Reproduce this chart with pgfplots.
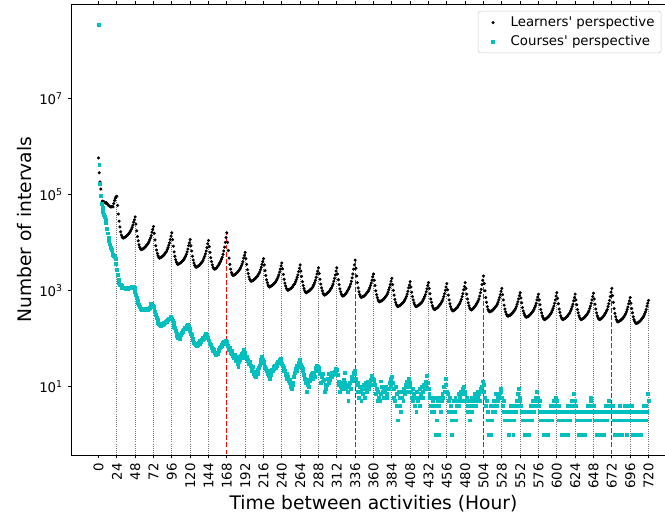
\documentclass[border=0pt]{standalone}
\usepackage{fontspec}
\setmainfont{DejaVu Sans}
\usepackage{pgfplots}
\pgfplotsset{compat=1.18}
\definecolor{mplcyan}{rgb}{0,0.75,0.75}

\begin{document}
\begin{tikzpicture}
\useasboundingbox (0,0) rectangle (498.75pt,387.75pt);
\begin{axis}[
    at={(53.25pt,46.5pt)}, anchor=south west,
    scale only axis, width=453.75pt, height=337.9pt,
    xmin=-36, xmax=756,
    ymode=log, ymin=0.378, ymax=9.3e8,
    xtick={0,24,...,720},
    ytick={10,1000,100000,10000000},
    yticklabels={10\textsuperscript{1},10\textsuperscript{3},10\textsuperscript{5},10\textsuperscript{7}},
    xminorticks=false, yminorticks=false,
    /pgf/number format/assume math mode=true,
    tick align=outside, major tick length=2.6pt,
    tick style={black, line width=0.6pt},
    axis line style={line width=0.6pt},
    tick label style={font=\fontsize{10}{12}\selectfont},
    xticklabel style={rotate=90, anchor=east},
    xlabel={Time between activities (Hour)},
    ylabel={Number of intervals},
    label style={font=\fontsize{14}{16}\selectfont},
    xlabel style={at={(axis description cs:0.5,0)}, anchor=base, yshift=-41.25pt},
    ylabel style={at={(axis description cs:-0.0775,0.5)}, anchor=center},
    legend cell align=left,
    legend image code/.code={\path (0pt,0pt) (19pt,0pt); \draw[#1] plot coordinates {(8pt,0pt)};},
    legend style={at={(0.976,0.9856)}, anchor=north east, draw=black!20,
        rounded corners=2pt, font=\fontsize{10}{12}\selectfont,
        inner ysep=2pt, row sep=1pt},
]

% learners' perspective
\addplot[only marks, mark=*, mark size=0.95pt, black] coordinates {
(0,5.89e5)(1,2.88e5)(2,1.86e5)(3,1.32e5)(4,9.55e4)(5,7.41e4)(6,7.08e4)(7,7.24e4)(8,6.92e4)(9,6.76e4)(10,6.92e4)(11,6.61e4)(12,6.31e4)(13,6.03e4)(14,5.89e4)(15,5.75e4)(16,5.62e4)(17,5.62e4)(18,5.75e4)(19,5.62e4)(20,6.61e4)(21,7.59e4)(22,8.51e4)(23,9.12e4)(24,9.33e4)
(25,6.03e4)(26,3.98e4)(27,2.82e4)(28,2.14e4)(29,1.70e4)(30,1.45e4)(31,1.32e4)(32,1.26e4)(33,1.26e4)(34,1.29e4)(35,1.32e4)(36,1.35e4)(37,1.41e4)(38,1.45e4)(39,1.51e4)(40,1.58e4)(41,1.66e4)(42,1.78e4)(43,1.91e4)(44,2.09e4)(45,2.34e4)(46,2.69e4)(47,3.02e4)(48,3.47e4)
(49,2.45e4)(50,1.78e4)(51,1.35e4)(52,1.10e4)(53,9.12e3)(54,8.13e3)(55,7.41e3)(56,7.24e3)(57,7.41e3)(58,7.41e3)(59,7.59e3)(60,7.94e3)(61,8.13e3)(62,8.51e3)(63,8.91e3)(64,9.33e3)(65,9.77e3)(66,1.05e4)(67,1.15e4)(68,1.26e4)(69,1.41e4)(70,1.66e4)(71,1.91e4)(72,2.19e4)
(73,1.58e4)(74,1.15e4)(75,8.71e3)(76,7.08e3)(77,6.03e3)(78,5.37e3)(79,4.90e3)(80,4.79e3)(81,4.90e3)(82,5.01e3)(83,5.13e3)(84,5.25e3)(85,5.50e3)(86,5.62e3)(87,6.03e3)(88,6.31e3)(89,6.61e3)(90,7.24e3)(91,7.94e3)(92,8.91e3)(93,1.00e4)(94,1.17e4)(95,1.38e4)(96,1.62e4)
(97,1.17e4)(98,8.51e3)(99,6.46e3)(100,5.25e3)(101,4.47e3)(102,3.98e3)(103,3.63e3)(104,3.55e3)(105,3.63e3)(106,3.72e3)(107,3.80e3)(108,3.89e3)(109,4.07e3)(110,4.17e3)(111,4.37e3)(112,4.57e3)(113,4.90e3)(114,5.25e3)(115,5.75e3)(116,6.46e3)(117,7.41e3)(118,8.71e3)(119,1.00e4)(120,1.17e4)
(121,8.71e3)(122,6.76e3)(123,5.25e3)(124,4.37e3)(125,3.80e3)(126,3.39e3)(127,3.16e3)(128,3.09e3)(129,3.16e3)(130,3.24e3)(131,3.31e3)(132,3.39e3)(133,3.55e3)(134,3.72e3)(135,3.89e3)(136,4.07e3)(137,4.37e3)(138,4.79e3)(139,5.25e3)(140,5.89e3)(141,6.76e3)(142,7.94e3)(143,9.55e3)(144,1.12e4)
(145,8.32e3)(146,6.31e3)(147,4.90e3)(148,4.07e3)(149,3.47e3)(150,3.09e3)(151,2.88e3)(152,2.82e3)(153,2.88e3)(154,2.95e3)(155,3.09e3)(156,3.24e3)(157,3.39e3)(158,3.63e3)(159,3.89e3)(160,4.17e3)(161,4.57e3)(162,5.01e3)(163,5.75e3)(164,6.76e3)(165,8.13e3)(166,1.02e4)(167,1.29e4)(168,1.62e4)
(169,1.02e4)(170,6.92e3)(171,4.79e3)(172,3.55e3)(173,2.82e3)(174,2.40e3)(175,2.19e3)(176,2.09e3)(177,2.14e3)(178,2.14e3)(179,2.19e3)(180,2.29e3)(181,2.34e3)(182,2.45e3)(183,2.57e3)(184,2.69e3)(185,2.82e3)(186,3.02e3)(187,3.31e3)(188,3.63e3)(189,4.07e3)(190,4.79e3)(191,5.50e3)(192,6.31e3)
(193,4.68e3)(194,3.55e3)(195,2.75e3)(196,2.29e3)(197,1.95e3)(198,1.74e3)(199,1.62e3)(200,1.58e3)(201,1.62e3)(202,1.62e3)(203,1.66e3)(204,1.74e3)(205,1.78e3)(206,1.86e3)(207,1.95e3)(208,2.00e3)(209,2.14e3)(210,2.29e3)(211,2.45e3)(212,2.75e3)(213,3.09e3)(214,3.55e3)(215,4.07e3)(216,4.68e3)
(217,3.47e3)(218,2.63e3)(219,2.09e3)(220,1.70e3)(221,1.48e3)(222,1.32e3)(223,1.23e3)(224,1.20e3)(225,1.23e3)(226,1.26e3)(227,1.29e3)(228,1.32e3)(229,1.38e3)(230,1.41e3)(231,1.48e3)(232,1.55e3)(233,1.66e3)(234,1.78e3)(235,1.95e3)(236,2.14e3)(237,2.45e3)(238,2.82e3)(239,3.31e3)(240,3.80e3)
(241,2.88e3)(242,2.19e3)(243,1.74e3)(244,1.45e3)(245,1.26e3)(246,1.12e3)(247,1.05e3)(248,1.02e3)(249,1.05e3)(250,1.07e3)(251,1.10e3)(252,1.12e3)(253,1.17e3)(254,1.20e3)(255,1.29e3)(256,1.35e3)(257,1.41e3)(258,1.55e3)(259,1.70e3)(260,1.91e3)(261,2.14e3)(262,2.51e3)(263,2.95e3)(264,3.47e3)
(265,2.57e3)(266,2.00e3)(267,1.55e3)(268,1.29e3)(269,1.12e3)(270,1.00e3)(271,933)(272,912)(273,933)(274,955)(275,977)(276,1.00e3)(277,1.05e3)(278,1.07e3)(279,1.12e3)(280,1.17e3)(281,1.26e3)(282,1.35e3)(283,1.48e3)(284,1.66e3)(285,1.91e3)(286,2.24e3)(287,2.57e3)(288,3.02e3)
(289,2.29e3)(290,1.74e3)(291,1.38e3)(292,1.15e3)(293,1.00e3)(294,891)(295,832)(296,813)(297,832)(298,851)(299,871)(300,912)(301,933)(302,977)(303,1.02e3)(304,1.10e3)(305,1.15e3)(306,1.26e3)(307,1.38e3)(308,1.58e3)(309,1.82e3)(310,2.14e3)(311,2.57e3)(312,3.02e3)
(313,2.24e3)(314,1.70e3)(315,1.35e3)(316,1.10e3)(317,955)(318,851)(319,794)(320,776)(321,794)(322,813)(323,851)(324,891)(325,933)(326,1.00e3)(327,1.07e3)(328,1.15e3)(329,1.23e3)(330,1.38e3)(331,1.58e3)(332,1.86e3)(333,2.24e3)(334,2.82e3)(335,3.47e3)(336,4.37e3)
(337,2.95e3)(338,2.04e3)(339,1.48e3)(340,1.15e3)(341,955)(342,832)(343,759)(344,724)(345,741)(346,759)(347,759)(348,794)(349,813)(350,851)(351,891)(352,933)(353,977)(354,1.05e3)(355,1.15e3)(356,1.29e3)(357,1.45e3)(358,1.66e3)(359,1.95e3)(360,2.24e3)
(361,1.66e3)(362,1.29e3)(363,1.00e3)(364,832)(365,724)(366,646)(367,603)(368,589)(369,603)(370,617)(371,617)(372,646)(373,661)(374,692)(375,724)(376,759)(377,794)(378,851)(379,933)(380,1.05e3)(381,1.17e3)(382,1.35e3)(383,1.58e3)(384,1.82e3)
(385,1.35e3)(386,1.02e3)(387,813)(388,661)(389,575)(390,513)(391,479)(392,468)(393,479)(394,490)(395,501)(396,513)(397,537)(398,550)(399,575)(400,603)(401,646)(402,692)(403,759)(404,851)(405,977)(406,1.15e3)(407,1.32e3)(408,1.55e3)
(409,1.20e3)(410,933)(411,759)(412,646)(413,562)(414,513)(415,479)(416,468)(417,479)(418,490)(419,501)(420,513)(421,537)(422,550)(423,575)(424,603)(425,646)(426,692)(427,759)(428,832)(429,955)(430,1.10e3)(431,1.29e3)(432,1.48e3)
(433,1.12e3)(434,871)(435,676)(436,575)(437,490)(438,447)(439,417)(440,407)(441,417)(442,427)(443,437)(444,447)(445,468)(446,490)(447,513)(448,537)(449,575)(450,617)(451,676)(452,759)(453,871)(454,1.02e3)(455,1.20e3)(456,1.41e3)
(457,1.05e3)(458,813)(459,646)(460,537)(461,468)(462,417)(463,389)(464,380)(465,389)(466,398)(467,407)(468,427)(469,437)(470,457)(471,490)(472,513)(473,550)(474,603)(475,661)(476,759)(477,871)(478,1.05e3)(479,1.23e3)(480,1.48e3)
(481,1.12e3)(482,851)(483,676)(484,562)(485,490)(486,437)(487,407)(488,398)(489,407)(490,417)(491,437)(492,457)(493,479)(494,501)(495,537)(496,575)(497,617)(498,676)(499,776)(500,912)(501,1.07e3)(502,1.35e3)(503,1.66e3)(504,2.04e3)
(505,1.41e3)(506,1.00e3)(507,724)(508,575)(509,468)(510,407)(511,380)(512,363)(513,372)(514,380)(515,380)(516,398)(517,407)(518,427)(519,447)(520,468)(521,490)(522,525)(523,575)(524,646)(525,724)(526,832)(527,977)(528,1.12e3)
(529,832)(530,646)(531,501)(532,417)(533,363)(534,324)(535,302)(536,295)(537,302)(538,309)(539,309)(540,324)(541,331)(542,347)(543,363)(544,380)(545,398)(546,427)(547,468)(548,525)(549,589)(550,676)(551,794)(552,912)
(553,708)(554,562)(555,447)(556,380)(557,339)(558,309)(559,288)(560,282)(561,288)(562,288)(563,295)(564,309)(565,316)(566,331)(567,347)(568,363)(569,380)(570,407)(571,447)(572,490)(573,550)(574,646)(575,741)(576,851)
(577,646)(578,513)(579,407)(580,347)(581,302)(582,275)(583,257)(584,251)(585,257)(586,263)(587,269)(588,282)(589,288)(590,302)(591,316)(592,331)(593,355)(594,389)(595,427)(596,479)(597,550)(598,646)(599,776)(600,912)
(601,692)(602,537)(603,417)(604,355)(605,302)(606,275)(607,257)(608,251)(609,257)(610,263)(611,269)(612,275)(613,288)(614,295)(615,316)(616,331)(617,347)(618,380)(619,417)(620,468)(621,525)(622,617)(623,724)(624,851)
(625,646)(626,513)(627,407)(628,347)(629,302)(630,275)(631,257)(632,251)(633,257)(634,263)(635,269)(636,275)(637,288)(638,302)(639,316)(640,331)(641,355)(642,380)(643,427)(644,479)(645,550)(646,646)(647,759)(648,891)
(649,676)(650,525)(651,417)(652,347)(653,302)(654,275)(655,257)(656,251)(657,257)(658,263)(659,269)(660,282)(661,295)(662,309)(663,331)(664,347)(665,380)(666,407)(667,468)(668,537)(669,631)(670,759)(671,933)(672,1.12e3)
(673,794)(674,575)(675,427)(676,339)(677,288)(678,251)(679,229)(680,224)(681,229)(682,234)(683,240)(684,245)(685,257)(686,263)(687,275)(688,288)(689,309)(690,331)(691,363)(692,407)(693,457)(694,537)(695,617)(696,724)
(697,550)(698,427)(699,347)(700,288)(701,251)(702,229)(703,214)(704,209)(705,214)(706,214)(707,219)(708,229)(709,234)(710,245)(711,257)(712,269)(713,282)(714,302)(715,331)(716,363)(717,407)(718,479)(719,550)(720,631)
};
\addlegendentry{Learners\textquotesingle\ perspective}

% courses' perspective
\addplot[only marks, mark=square*, mark size=1.1pt, color=mplcyan] coordinates {
(0,3.47e8)(1,4.17e5)(2,1.74e5)(3,9.77e4)(4,6.61e4)(5,5.37e4)(6,4.47e4)(7,3.89e4)(8,3.47e4)(9,3.09e4)(10,2.63e4)(11,2.00e4)(12,1.58e4)(13,1.29e4)(14,1.10e4)(15,9.33e3)(16,7.94e3)(17,7.08e3)(18,6.31e3)(19,5.75e3)(20,5.37e3)(21,5.13e3)(22,4.57e3)(23,3.72e3)
(24,2.69e3)(25,2.14e3)(26,1.74e3)(27,1.48e3)(28,1.35e3)(29,1.32e3)(30,1.26e3)(31,1.17e3)(32,1.15e3)(33,1.17e3)(34,1.15e3)(35,1.12e3)(36,1.15e3)(37,1.15e3)(38,1.12e3)(39,1.15e3)(40,1.17e3)(41,1.15e3)(42,1.15e3)(43,1.17e3)(44,1.20e3)(45,1.20e3)(46,1.23e3)(47,1.15e3)
(48,955)(49,813)(50,708)(51,631)(52,575)(53,513)(54,457)(55,427)(56,417)(57,398)(58,407)(59,417)(60,398)(61,407)(62,427)(63,407)(64,417)(65,398)(66,427)(67,437)(68,479)(69,525)(70,550)(71,490)
(72,468)(73,417)(74,363)(75,316)(76,275)(77,245)(78,219)(79,204)(80,195)(81,200)(82,186)(83,204)(84,191)(85,209)(86,219)(87,214)(88,229)(89,240)(90,229)(91,251)(92,263)(93,257)(94,282)(95,295)
(96,263)(97,234)(98,214)(99,182)(100,166)(101,148)(102,126)(103,115)(104,107)(105,112)(106,100)(107,110)(108,123)(109,132)(110,145)(111,138)(112,158)(113,166)(114,162)(115,178)(116,186)(117,200)(118,182)(119,162)
(120,145)(121,129)(122,120)(123,102)(124,93)(125,83)(126,79)(127,76)(128,79)(129,72)(130,74)(131,81)(132,78)(133,89)(134,87)(135,95)(136,93)(137,107)(138,102)(139,117)(140,115)(141,129)(142,123)(143,107)
(144,93)(145,89)(146,78)(147,74)(148,65)(149,63)(150,56)(151,59)(152,50)(153,52)(154,47)(155,50)(156,48)(157,55)(158,58)(159,66)(160,69)(161,74)(162,72)(163,81)(164,85)(165,79)(166,93)(167,91)
(168,85)(169,72)(170,63)(171,58)(172,66)(173,52)(174,49)(175,55)(176,44)(177,41)(178,47)(179,38)(180,35)(181,42)(182,30)(183,26)(184,33)(185,37)(186,44)(187,40)(188,48)(189,52)(190,58)(191,50)
(192,46)(193,40)(194,43)(195,35)(196,36)(197,30)(198,33)(199,27)(200,24)(201,22)(202,26)(203,19)(204,21)(205,17)(206,16)(207,20)(208,23)(209,19)(210,25)(211,28)(212,32)(213,37)(214,42)(215,36)
(216,33)(217,29)(218,26)(219,24)(220,21)(221,19)(222,22)(223,17)(224,15)(225,20)(226,18)(227,23)(228,21)(229,26)(230,24)(231,28)(232,25)(233,30)(234,27)(235,33)(236,31)(237,36)(238,39)(239,34)
(240,30)(241,27)(242,25)(243,21)(244,22)(245,18)(246,19)(247,15)(248,16)(249,13)(250,12)(251,14)(252,10)(253,9)(254,11)(255,12)(256,16)(257,20)(258,24)(259,22)(260,28)(261,26)(262,31)(263,37)
(264,33)(265,29)(266,26)(267,24)(268,22)(269,18)(270,15)(271,12)(272,14)(273,8)(274,11)(275,10)(276,13)(277,14)(278,17)(279,19)(280,15)(281,20)(282,18)(283,16)(284,25)(285,22)(286,28)(287,26)
(288,25)(289,21)(290,19)(291,12)(292,16)(293,19)(294,13)(295,14)(296,8)(297,11)(298,9)(299,11)(300,15)(301,19)(302,12)(303,14)(304,17)(305,20)(306,16)(307,18)(308,19)(309,21)(310,22)(311,24)
(312,23)(313,18)(314,11)(315,13)(316,8)(317,10)(318,9)(319,12)(320,10)(321,14)(322,20)(323,12)(324,9)(325,11)(326,8)(327,5)(328,10)(329,12)(330,9)(331,14)(332,16)(333,13)(334,20)(335,22)
(336,19)(337,15)(338,11)(339,8)(340,12)(341,6)(342,10)(343,8)(344,5)(345,9)(346,7)(347,11)(348,6)(349,9)(350,12)(351,8)(352,10)(353,13)(354,9)(355,12)(356,14)(357,11)(358,17)(359,15)
(360,14)(361,13)(362,11)(363,7)(364,9)(365,5)(366,8)(367,6)(368,5)(369,13)(370,7)(371,10)(372,8)(373,6)(374,9)(375,8)(376,10)(377,7)(378,6)(379,9)(380,9)(381,12)(382,10)(383,15)
(384,16)(385,12)(386,9)(387,6)(388,5)(389,10)(390,4)(391,7)(392,2)(393,8)(394,6)(395,4)(396,3)(397,6)(398,8)(399,5)(400,9)(401,7)(402,11)(403,8)(404,13)(405,10)(406,15)(407,12)
(408,10)(409,8)(410,6)(411,9)(412,5)(413,7)(414,4)(415,6)(416,3)(417,8)(418,5)(419,6)(420,9)(421,4)(422,7)(423,10)(424,6)(425,8)(426,11)(427,9)(428,13)(429,10)(430,17)(431,12)
(432,9)(433,7)(434,6)(435,4)(436,3)(437,6)(438,5)(439,3)(440,4)(441,6)(442,1)(443,2)(444,5)(445,1)(446,4)(447,6)(448,3)(449,5)(450,7)(451,6)(452,10)(453,8)(454,15)(455,11)
(456,8)(457,7)(458,5)(459,3)(460,6)(461,4)(462,2)(463,1)(464,3)(465,5)(466,3)(467,6)(468,2)(469,4)(470,5)(471,7)(472,4)(473,6)(474,8)(475,5)(476,7)(477,9)(478,10)(479,8)
(480,7)(481,5)(482,6)(483,4)(484,3)(485,5)(486,2)(487,4)(488,6)(489,3)(490,5)(491,4)(492,7)(493,6)(494,4)(495,5)(496,8)(497,6)(498,7)(499,5)(500,9)(501,8)(502,10)(503,13)
(504,11)(505,8)(506,6)(507,4)(508,5)(509,2)(510,3)(511,1)(512,2)(513,1)(514,4)(515,2)(516,3)(517,5)(518,4)(519,3)(520,7)(521,4)(522,6)(523,5)(524,7)(525,6)(526,9)(527,8)
(528,6)(529,4)(530,3)(531,5)(532,2)(533,3)(534,2)(535,3)(536,2)(537,1)(538,3)(539,2)(540,4)(541,2)(542,3)(543,1)(544,2)(545,4)(546,3)(547,5)(548,4)(549,7)(550,9)(551,6)
(552,5)(553,4)(554,3)(555,2)(556,3)(557,2)(558,1)(559,2)(560,3)(561,2)(562,2)(563,1)(564,3)(565,2)(566,4)(567,2)(568,3)(569,5)(570,3)(571,4)(572,6)(573,5)(574,8)(575,6)
(576,4)(577,3)(578,5)(579,2)(580,3)(581,2)(583,1)(584,2)(585,3)(586,2)(587,3)(588,1)(589,2)(590,3)(591,2)(592,4)(593,3)(594,2)(595,4)(596,5)(597,3)(598,6)(599,4)
(600,5)(601,3)(602,4)(603,2)(604,3)(605,2)(606,1)(607,2)(608,3)(609,2)(610,1)(611,3)(612,2)(613,2)(614,4)(615,1)(616,3)(617,2)(618,4)(619,3)(620,5)(621,4)(622,7)(623,5)
(624,3)(625,4)(626,2)(627,3)(628,2)(629,1)(630,3)(631,2)(632,1)(633,2)(634,3)(635,2)(637,1)(638,2)(639,3)(640,2)(641,4)(642,3)(643,2)(644,5)(645,6)(646,4)(647,3)
(648,4)(649,3)(650,2)(651,3)(652,1)(653,2)(654,3)(655,2)(656,1)(657,3)(658,2)(659,3)(660,2)(661,1)(662,3)(663,2)(664,4)(665,3)(666,2)(667,3)(668,5)(669,4)(670,3)(671,4)
(672,3)(673,4)(674,2)(675,3)(676,1)(677,2)(678,3)(679,2)(680,1)(681,2)(682,4)(683,2)(684,3)(685,1)(686,2)(687,3)(688,2)(689,4)(690,2)(691,3)(692,1)(693,3)(694,4)(695,2)
(696,3)(697,2)(698,4)(699,1)(700,2)(701,3)(702,1)(703,2)(704,3)(705,2)(706,1)(707,3)(708,2)(709,3)(710,1)(711,2)(712,3)(713,2)(714,4)(715,3)(716,2)(717,4)(718,3)(719,7)(720,5)
};
\addlegendentry{Courses\textquotesingle\ perspective}

% daily guide lines, up to the learners' value at each multiple of 24
\addplot[forget plot, black!55, line width=0.6pt, dash pattern=on 0.6pt off 1pt, unbounded coords=jump] coordinates {
(24,0.1)(24,9.33e4)(24,nan)(48,0.1)(48,3.47e4)(48,nan)(72,0.1)(72,2.19e4)(72,nan)(96,0.1)(96,1.62e4)(96,nan)
(120,0.1)(120,1.17e4)(120,nan)(144,0.1)(144,1.12e4)(144,nan)(192,0.1)(192,6.31e3)(192,nan)(216,0.1)(216,4.68e3)(216,nan)
(240,0.1)(240,3.80e3)(240,nan)(264,0.1)(264,3.47e3)(264,nan)(288,0.1)(288,3.02e3)(288,nan)(312,0.1)(312,3.02e3)(312,nan)
(360,0.1)(360,2.24e3)(360,nan)(384,0.1)(384,1.82e3)(384,nan)(408,0.1)(408,1.55e3)(408,nan)(432,0.1)(432,1.48e3)(432,nan)
(456,0.1)(456,1.41e3)(456,nan)(480,0.1)(480,1.48e3)(480,nan)(528,0.1)(528,1.12e3)(528,nan)(552,0.1)(552,912)(552,nan)
(576,0.1)(576,851)(576,nan)(600,0.1)(600,912)(600,nan)(624,0.1)(624,851)(624,nan)(648,0.1)(648,891)(648,nan)
(696,0.1)(696,724)(696,nan)(720,0.1)(720,631)
};
% weekly lines
\addplot[forget plot, red, line width=0.9pt, dash pattern=on 3.7pt off 1.6pt, unbounded coords=jump] coordinates {
(168,0.1)(168,1.62e4)(168,nan)(336,0.1)(336,4.37e3)(336,nan)(504,0.1)(504,2.04e3)(504,nan)(672,0.1)(672,1.12e3)
};

\end{axis}
\end{tikzpicture}
\end{document}
